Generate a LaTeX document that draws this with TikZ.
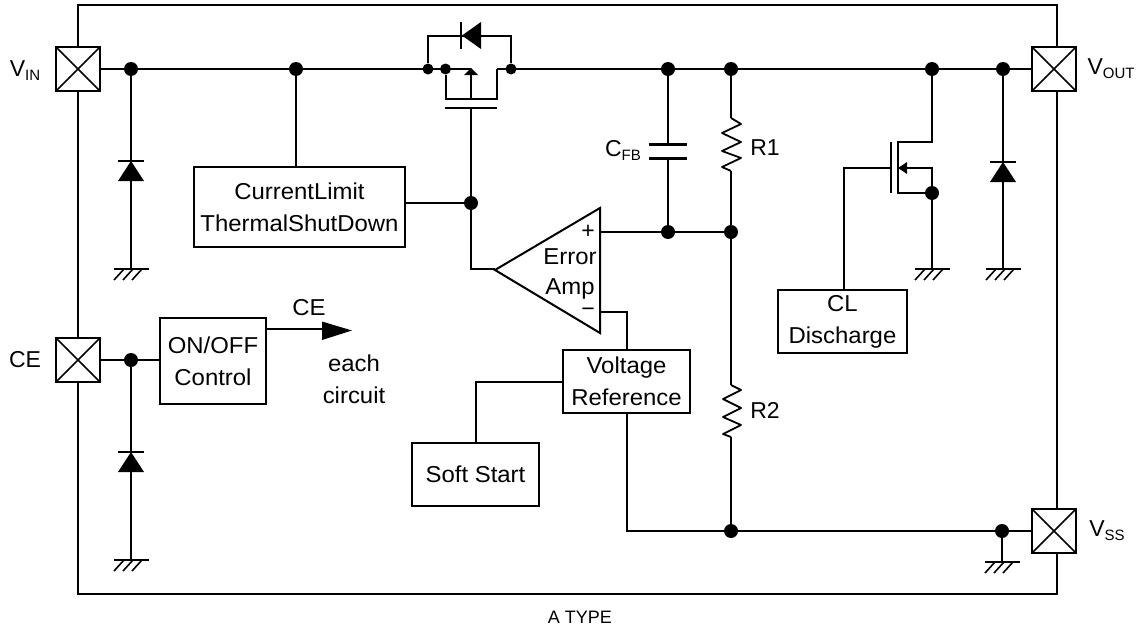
\documentclass[tikz,border=0pt]{standalone}
\usepackage{fontspec}
\usepackage{tikz}
\setmainfont{Liberation Sans}
\newfontfamily\blockfont[FakeStretch=1.04]{Liberation Sans}
\usetikzlibrary{arrows.meta}
\newcommand{\pinsub}[1]{\raisebox{-4pt}{\fontsize{15}{15}\selectfont #1}}

\tikzset{
	wire/.style={line width=2pt},
	pad/.style={draw, line width=2pt, minimum size=44pt, inner sep=0pt, fill=white,
		path picture={\draw[line width=1.6pt] (path picture bounding box.north west) -- (path picture bounding box.south east)
			(path picture bounding box.north east) -- (path picture bounding box.south west);}},
	block/.style={draw, line width=2pt, inner sep=0pt, align=center, font=\blockfont\fontsize{23}{32}\selectfont},
	dot/.style={circle, fill=black, inner sep=0pt, minimum size=14pt},
	smalldot/.style={dot, minimum size=11pt},
	label/.style={inner sep=0pt, font=\fontsize{23}{25}\selectfont},
	blocktext/.style={label, font=\blockfont\fontsize{23}{32}\selectfont, align=center},
	gnd/.pic={
		\draw[wire] (-17,0) -- (18,0);
		\draw[line width=1.6pt] (-7,0) -- (-17,11) (2,0) -- (-8,11) (11,0) -- (1,11);
	},
	diodeup/.pic={
		\fill (-13,20) -- (13,20) -- (0,0) -- cycle;
		\draw[wire] (-13,0) -- (13,0);
	},
	zigzag/.style={line width=1.8pt, line join=round}
}

\begin{document}
\begin{tikzpicture}[x=1pt,y=-1pt]
	\useasboundingbox (0,0) rectangle (1141,629);

	% package outline
	\draw[wire] (78,5) rectangle (1057,594);

	\node[pad] (vinpad) at (78,69) {};
	\node[pad] (cepad) at (78,360) {};
	\node[pad] (voutpad) at (1054,69) {};
	\node[pad] (vsspad) at (1054,531) {};

	\node[label] (vinlabel) at (25,71) {V\pinsub{IN}};
	\node[label] (celabel) at (25,360) {CE};
	\node[label] (voutlabel) at (1111,69) {V\pinsub{OUT}};
	\node[label] (vsslabel) at (1107,531) {V\pinsub{SS}};
	\node[label, font=\fontsize{18}{20}\selectfont] (typelabel) at (580,617) {A TYPE};

	% blocks
	\node[block, minimum width=211pt, minimum height=80pt] (limit) at (299.5,207) {CurrentLimit\\ThermalShutDown};
	\node[block, minimum width=106pt, minimum height=86pt] (onoff) at (213,361) {ON/OFF\\Control};
	\node[block, minimum width=127pt, minimum height=63pt] (vref) at (626.5,381.5) {Voltage\\Reference};
	\node[block, minimum width=127pt, minimum height=63pt] (soft) at (475.5,474.5) {Soft Start};
	\node[block, minimum width=129pt, minimum height=63pt] (discharge) at (842.5,321.5) {CL\\Discharge};

	% junctions
	\node[dot] (rail1) at (131,69) {};
	\node[dot] (rail2) at (296,69) {};
	\node[smalldot] (bypassL) at (428,69) {};
	\node[smalldot] (body) at (445.5,69) {};
	\node[smalldot] (bypassR) at (511,69) {};
	\node[dot] (rail3) at (668,69) {};
	\node[dot] (rail4) at (731,69) {};
	\node[dot] (rail5) at (932,69) {};
	\node[dot] (rail6) at (1003,69) {};
	\node[dot] (gate) at (471,203) {};
	\node[dot] (fbcap) at (668,232) {};
	\node[dot] (fbres) at (731,232) {};
	\node[dot] (cejoin) at (131,360) {};
	\node[dot] (source) at (932,193) {};
	\node[dot] (vssjoin1) at (731,531) {};
	\node[dot] (vssjoin2) at (1002,531) {};

	\coordinate (gndA) at (131,269);
	\coordinate (gndB) at (131,560);
	\coordinate (gndC) at (932,269);
	\coordinate (gndD) at (1003,269);
	\coordinate (gndE) at (1002,562);

	% rail
	\draw[wire] (vinpad) -- (471,69);
	\draw[wire] (497,69) -- (voutpad);
	\draw[wire] (rail2) -- (rail2 |- limit.north);
	\draw[wire] (cepad) -- (onoff.west |- cepad);
	\draw[wire] (vref.south) |- (vsspad);

	% protection diodes
	\draw[wire] (rail1) -- (gndA);
	\draw[wire] (cejoin) -- (gndB);
	\draw[wire] (rail6) -- (gndD);
	\draw[wire] (vssjoin2) -- (gndE);
	\pic at (131,161) {diodeup};
	\pic at (131,452) {diodeup};
	\pic at (1003,162) {diodeup};
	\pic at (gndA) {gnd};
	\pic at (gndB) {gnd};
	\pic at (gndC) {gnd};
	\pic at (gndD) {gnd};
	\pic at (gndE) {gnd};

	% pass transistor
	\draw[wire] (bypassL) |- (bypassR |- 0,36) -- (bypassR);
	\fill (462,35.5) -- (481,22) -- (481,49) -- cycle;
	\draw[wire] (461,22) -- (461,49);
	\draw[wire] (body) -- (445.5,99) -- (497,99) -- (497,69);
	\draw[wire] (471,69) -- (471,99);
	\fill (471,68) -- (478,75) -- (464,75) -- cycle;
	\draw[wire] (445,108) -- (497,108);
	\draw[wire] (471,108) -- (gate);
	\draw[wire] (limit.east |- gate) -- (gate);
	\draw[wire] (gate) |- (495,269);

	% error amp
	\draw[wire, line join=miter] (495,270) -- (600,208) -- (600,333) -- cycle;
	\node[label] (plus) at (588,232) {+};
	\node[label] (minus) at (588,312) {−};
	\node[blocktext] (errortext) at (570,257) {Error};
	\node[blocktext] (amptext) at (570,289) {Amp};
	\draw[wire] (600,232) -- (fbres);
	\draw[wire] (600,312) -| (vref.north);
	\draw[wire] (vref.west) -| (soft.north);

	% feedback
	\draw[wire] (rail3) -- (668,144);
	\draw[wire] (668,158) -- (fbcap);
	\draw[line width=3pt] (649,144) -- (687,144);
	\draw[line width=3pt] (649,158) -- (687,158);
	\node[label] (cfblabel) at (623,150) {C\pinsub{FB}};
	\draw[wire] (rail4) -- (731,118);
	\draw[zigzag] (731,118) -- (741,124) -- (722,133) -- (741,142) -- (722,151) -- (741,158) -- (722,167) -- (731,171);
	\draw[wire] (731,171) -- (731,385);
	\node[label] (r1label) at (765,148) {R1};
	\draw[zigzag] (731,385) -- (741,390) -- (723,399) -- (741,408) -- (723,417) -- (741,425) -- (723,434) -- (731,437);
	\draw[wire] (731,437) -- (vssjoin1);
	\node[label] (r2label) at (765,410) {R2};

	% discharge transistor
	\draw[wire] (rail5) -- (932,142) -- (898,142) -- (898,193) -- (source);
	\draw[wire] (891,142) -- (891,193);
	\draw[wire] (source) -- (932,168) -- (905,168);
	\fill (898,168) -- (907,162) -- (907,174) -- cycle;
	\draw[wire] (source) -- (gndC);
	\draw[wire] (891,168) -| (discharge.north -| 844,0);

	% enable output
	\draw[wire] (onoff.east |- 0,329) -- (323,329);
	\fill (352,330.5) -- (322,321.5) -- (322,340) -- cycle;
	\node[blocktext] (cetext) at (309,308) {CE};
	\node[blocktext] (circuittext) at (354,379) {each\\circuit};
\end{tikzpicture}
\end{document}
